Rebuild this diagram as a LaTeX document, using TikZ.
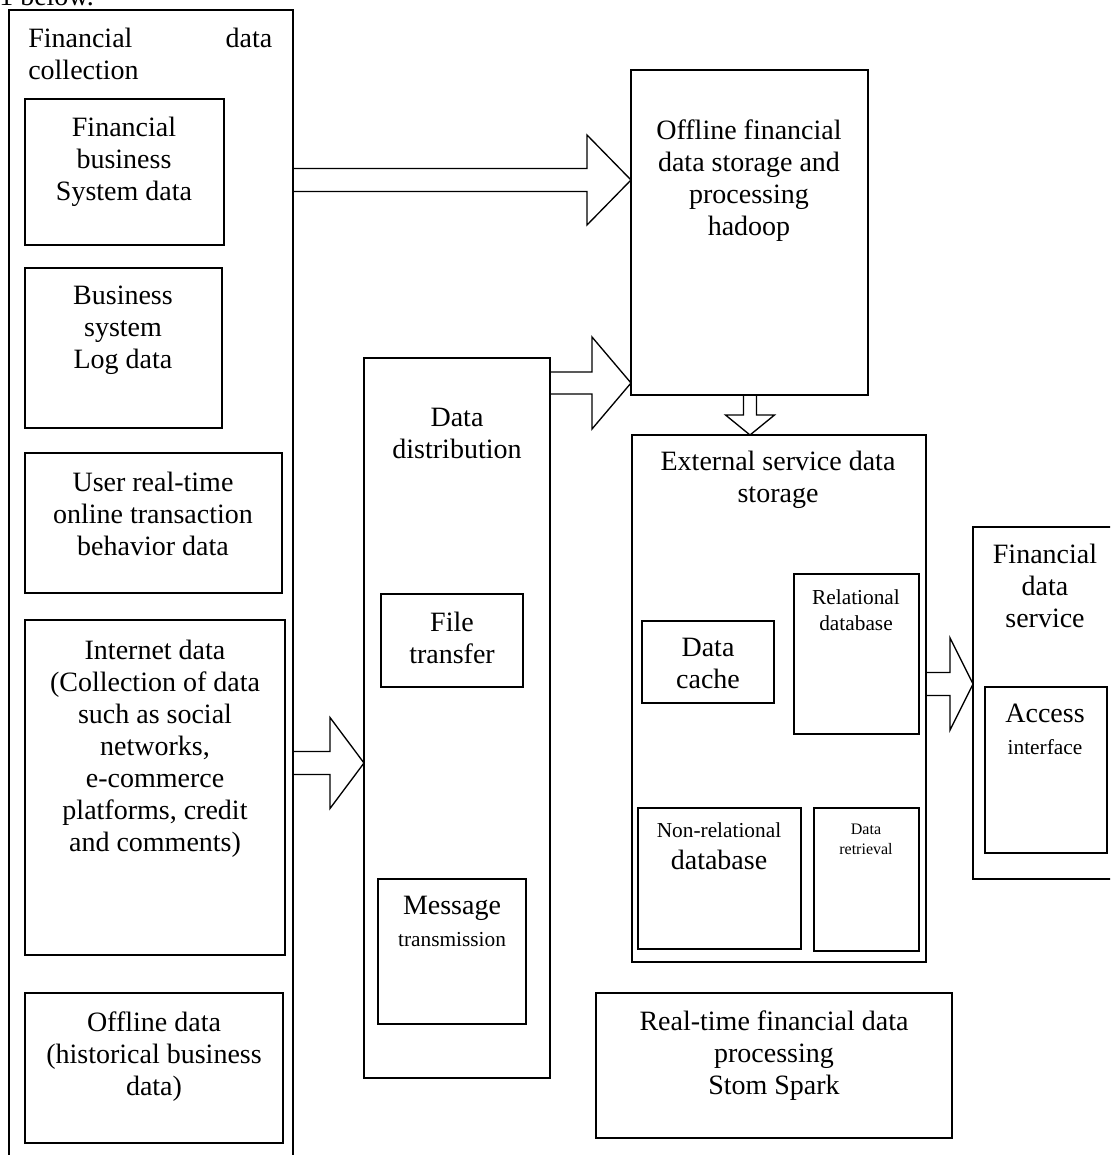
\documentclass[tikz,border=0pt]{standalone}
\usepackage{fontspec}
\setmainfont{Liberation Serif}
\usetikzlibrary{calc,fit}

\newcommand\lgsize{\fontsize{21}{24}\selectfont}
\newcommand\mdsize{\fontsize{16}{20}\selectfont}
\newcommand\smsize{\fontsize{12}{15}\selectfont}

\tikzset{
  box/.style={draw, line width=1pt, inner sep=0pt, outer sep=0pt, fit={#1}},
  lbl/.style={anchor=north, align=center, inner sep=0pt, font=\lgsize},
  % hollow block arrows, args: shaft half width / head half width / head length
  fatright/.style n args={3}{line width=1pt, to path={
    ($(\tikztostart)+(0,#1)$) -- ($(\tikztotarget)+(-#3,#1)$) -- ($(\tikztotarget)+(-#3,#2)$)
    -- (\tikztotarget) -- ($(\tikztotarget)+(-#3,-#2)$) -- ($(\tikztotarget)+(-#3,-#1)$)
    -- ($(\tikztostart)+(0,-#1)$)}},
  fatdown/.style n args={3}{line width=1pt, to path={
    ($(\tikztostart)+(#1,0)$) -- ($(\tikztotarget)+(#1,-#3)$) -- ($(\tikztotarget)+(#2,-#3)$)
    -- (\tikztotarget) -- ($(\tikztotarget)+(-#2,-#3)$) -- ($(\tikztotarget)+(-#1,-#3)$)
    -- ($(\tikztostart)+(-#1,0)$)}}
}

\begin{document}
\begin{tikzpicture}[x=0.75pt, y=-0.75pt]
\clip (0,0) rectangle (1110,1155);

\node[lbl, anchor=base west] (top) at (-1,6) {1 below.};

% data collection column
\node[box={(9,10) (293,1175)}] (col) {};
\node[lbl, anchor=north west, align=left] (col-t) at (28,28) {\hbox to 183pt{Financial\hfill data}\\collection};

\node[box={(25,99) (224,245)}] (fbs) {};
\node[lbl] (fbs-t) at (124,117) {Financial\\business\\System data};
\node[box={(25,268) (222,428)}] (log) {};
\node[lbl] (log-t) at (123,286) {Business\\system\\Log data};
\node[box={(25,453) (282,593)}] (usr) {};
\node[lbl] (usr-t) at (153,472) {User real-time\\online transaction\\behavior data};
\node[box={(25,620) (285,955)}] (net) {};
\node[lbl] (net-t) at (155,640) {Internet data\\(Collection of data\\such as social\\networks,\\e-commerce\\platforms, credit\\and comments)};
\node[box={(25,993) (283,1143)}] (off) {};
\node[lbl] (off-t) at (154,1012) {Offline data\\(historical business\\data)};

% hadoop
\node[box={(631,70) (868,395)}] (hd) {};
\node[lbl] (hd-t) at (749,120) {Offline financial\\data storage and\\processing\\hadoop};

% distribution
\node[box={(364,358) (550,1078)}] (dist) {};
\node[lbl] (dist-t) at (457,408) {Data\\distribution};
\node[box={(381,594) (523,687)}] (ftr) {};
\node[lbl] (ftr-t) at (452,612) {File\\transfer};
\node[box={(378,879) (526,1024)}] (msg) {};
\node[lbl] (msg-t) at (452,896) {Message\\{\mdsize transmission}};

% external storage
\node[box={(632,435) (926,962)}] (ext) {};
\node[lbl] (ext-t) at (778,451) {External service data\\storage};
\node[box={(642,621) (774,703)}] (dc) {};
\node[lbl] (dc-t) at (708,638) {Data\\cache};
\node[box={(794,574) (919,734)}] (rel) {};
\node[lbl, font=\mdsize] (rel-t) at (856,589) {Relational\\database};
\node[box={(638,808) (801,949)}] (nrel) {};
\node[lbl] (nrel-t) at (719,822) {{\mdsize Non-relational}\\database};
\node[box={(814,808) (919,951)}] (ret) {};
\node[lbl, font=\smsize] (ret-t) at (866,824) {Data\\retrieval};

% service
\node[box={(973,527) (1125,879)}] (svc) {};
\node[lbl] (svc-t) at (1045,544) {Financial\\data\\service};
\node[box={(985,687) (1107,853)}] (acc) {};
\node[lbl] (acc-t) at (1045,704) {Access\\{\mdsize interface}};

% real-time
\node[box={(596,993) (952,1138)}] (rt) {};
\node[lbl] (rt-t) at (774,1011) {Real-time financial data\\processing\\Stom Spark};

% arrows
\coordinate (a1s) at (col.east |- 0,180);
\coordinate (a1e) at (hd.west |- 0,180);
\coordinate (a2s) at (dist.east |- 0,383);
\coordinate (a2e) at (hd.west |- 0,383);
\coordinate (a3s) at (col.east |- 0,763);
\coordinate (a3e) at (dist.west |- 0,763);
\coordinate (a4s) at (ext.east |- 0,684);
\coordinate (a4e) at (svc.west |- 0,684);
\coordinate (a5s) at (750,0 |- hd.south);
\coordinate (a5e) at (750,0 |- ext.north);

\draw[fatright={11.5}{45}{44}] (a1s) to (a1e);
\draw[fatright={11}{46}{39}] (a2s) to (a2e);
\draw[fatright={11.5}{45.5}{34}] (a3s) to (a3e);
\draw[fatright={11.5}{46}{23}] (a4s) to (a4e);
\draw[fatdown={6.5}{24.5}{20}] (a5s) to (a5e);
\end{tikzpicture}
\end{document}
